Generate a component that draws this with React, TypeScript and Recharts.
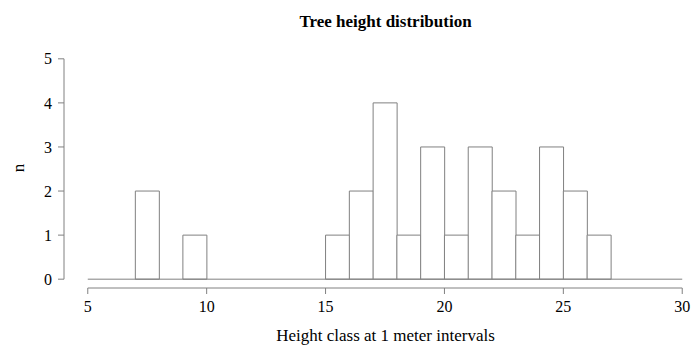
import { BarChart, Bar, XAxis, YAxis, ReferenceLine } from 'recharts';

// one-meter height classes, labelled by their lower edge
const binStarts = [5, 6, 7, 8, 9, 10, 11, 12, 13, 14, 15, 16, 17, 18, 19, 20, 21, 22, 23, 24, 25, 26, 27, 28, 29];
const counts = [0, 0, 2, 0, 1, 0, 0, 0, 0, 0, 1, 2, 4, 1, 3, 1, 3, 2, 1, 3, 2, 1, 0, 0, 0];
const xTicks = [5, 10, 15, 20, 25, 30];
const yTicks = [0, 1, 2, 3, 4, 5];

const data = binStarts.map((b, i) => ({ mid: b + 0.5, n: counts[i] }));

const serif = "'Liberation Serif', 'Times New Roman', serif";
const grey = '#808080';
const tickStyle = { fill: '#000', fontSize: 16, fontFamily: serif };

export default function App() {
  return (
    <div style={{ position: 'absolute', left: 0, top: 0, width: 691, height: 345, overflow: 'hidden', background: '#fff', fontFamily: serif }}>
      <style>{`.recharts-cartesian-axis-tick-value, .recharts-text { font-family: ${serif}; }`}</style>
      <BarChart width={720} height={345} data={data} barCategoryGap={0} margin={{ top: 50, right: 14, bottom: 0, left: 0 }}
        style={{ fontFamily: serif }}>
        <XAxis dataKey="mid" type="number" domain={[4, 31]} ticks={xTicks} allowDataOverflow
          axisLine={false} tickLine={{ stroke: grey }} tickSize={6} tickMargin={7} height={57} tick={tickStyle} />
        <YAxis domain={[-0.2, 5.2]} ticks={yTicks} allowDataOverflow width={64}
          axisLine={false} tickLine={{ stroke: grey }} tickSize={6} tickMargin={6} tick={tickStyle} />
        <ReferenceLine segment={[{ x: 5, y: 0 }, { x: 30, y: 0 }]} stroke={grey} />
        <ReferenceLine segment={[{ x: 5, y: -0.2 }, { x: 30, y: -0.2 }]} stroke={grey} />
        <ReferenceLine segment={[{ x: 4, y: 0 }, { x: 4, y: 5 }]} stroke={grey} />
        <Bar dataKey="n" fill="#fff" stroke={grey} strokeWidth={1} isAnimationActive={false} />
      </BarChart>
      <div style={{ position: 'absolute', left: 0, width: 771, top: 12, textAlign: 'center', fontWeight: 'bold', fontSize: 17 }}>
        Tree height distribution
      </div>
      <div style={{ position: 'absolute', left: 0, width: 771, top: 326, textAlign: 'center', fontSize: 17 }}>
        Height class at 1 meter intervals
      </div>
      <div style={{ position: 'absolute', left: 18, top: 168, transform: 'translate(-50%, -50%) rotate(-90deg)', fontSize: 17, lineHeight: 1 }}>
        n
      </div>
    </div>
  );
}
